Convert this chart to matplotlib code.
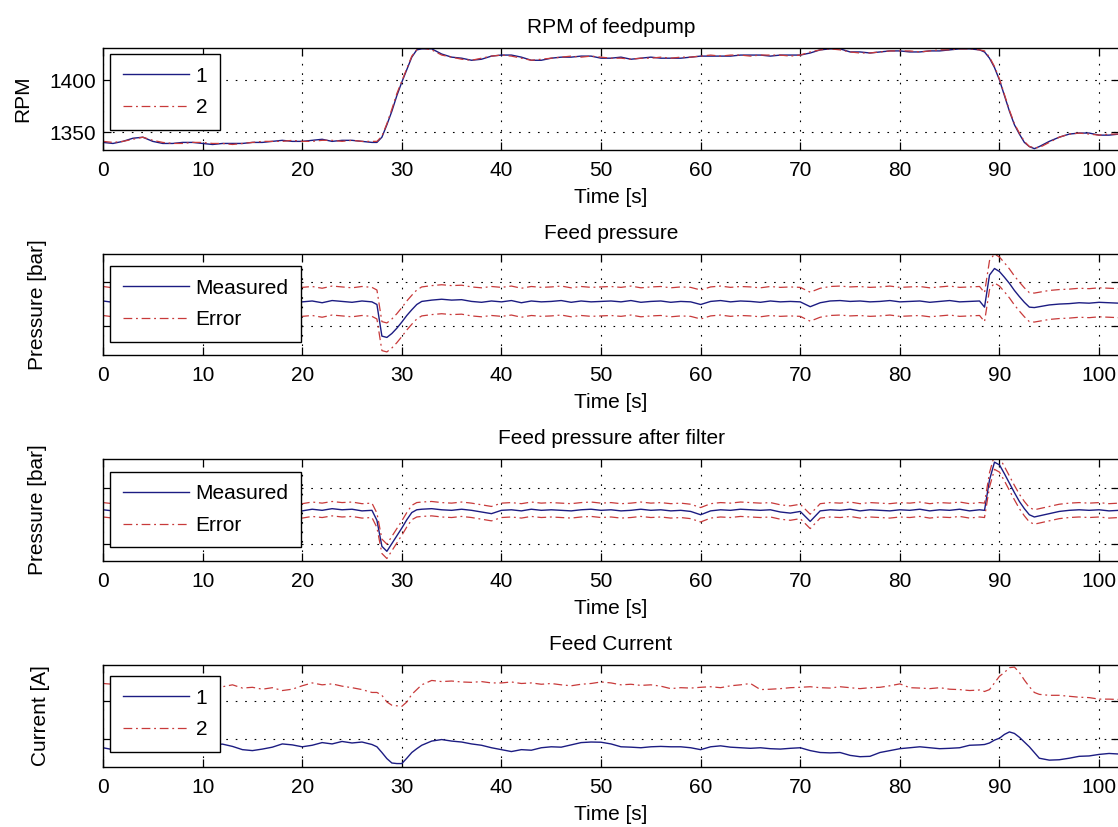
import numpy as np
import matplotlib
matplotlib.use("Agg")
import matplotlib.pyplot as plt

FS = 15
plt.rcParams["font.family"] = ["Liberation Sans", "DejaVu Sans"]
plt.rcParams["font.size"] = FS

# sampling instants [s]: 1 s steps, 0.5 s around the two load changes
t = np.r_[np.arange(0, 28), np.arange(27.5, 32, 0.5), np.arange(32, 89),
          np.arange(88.5, 94, 0.5), np.arange(94, 103)]

rpm_1 = [
    1340, 1339, 1341, 1344, 1345, 1341, 1339, 1339, 1340, 1340,
    1339, 1338, 1339, 1339, 1339, 1340, 1340, 1341, 1342, 1341,
    1341, 1342, 1343, 1341, 1342, 1342, 1341, 1340,
    1340, 1345, 1357, 1370, 1385, 1398, 1410, 1422, 1429,
    1430, 1430, 1425, 1422, 1421, 1419, 1420, 1423,
    1424, 1424, 1422, 1419, 1419, 1421, 1422, 1422, 1423, 1423,
    1421, 1421, 1422, 1420, 1421, 1422, 1421, 1421, 1421, 1422,
    1423, 1423, 1423, 1423, 1424, 1424, 1424, 1423, 1424, 1424,
    1424, 1426, 1429, 1430, 1430, 1427, 1427, 1426, 1427, 1428,
    1428, 1427, 1427, 1428, 1428, 1429, 1430, 1430, 1429,
    1427, 1421, 1412, 1400, 1385, 1370, 1357, 1348, 1340, 1336, 1334,
    1336, 1341, 1345, 1348, 1349, 1349, 1347, 1347, 1348,
]
rpm_2 = [
    1341, 1340, 1341, 1343, 1345, 1342, 1340, 1339, 1339, 1340,
    1340, 1339, 1339, 1338, 1339, 1340, 1341, 1341, 1341, 1342,
    1341, 1341, 1342, 1342, 1341, 1342, 1341, 1341,
    1341, 1346, 1358, 1372, 1387, 1399, 1411, 1423, 1429,
    1431, 1429, 1424, 1422, 1420, 1419, 1421, 1423,
    1424, 1423, 1421, 1419, 1420, 1421, 1422, 1423, 1422, 1423,
    1422, 1421, 1421, 1420, 1421, 1421, 1422, 1421, 1422, 1422,
    1423, 1424, 1423, 1424, 1424, 1423, 1424, 1424, 1424, 1423,
    1424, 1427, 1429, 1430, 1429, 1427, 1426, 1426, 1427, 1428,
    1428, 1428, 1427, 1428, 1429, 1429, 1430, 1430, 1429,
    1428, 1422, 1413, 1401, 1386, 1371, 1358, 1349, 1341, 1336, 1335,
    1335, 1340, 1345, 1348, 1349, 1348, 1347, 1348, 1348,
]

p_feed = [
    55.6, 55.3, 55.7, 55.4, 55.5, 55.8, 55.2, 55.6, 55.4, 55.7,
    55.3, 55.5, 55.6, 55.2, 55.7, 55.4, 55.5, 55.8, 55.3, 55.6,
    55.4, 55.6, 55.2, 55.7, 55.5, 55.3, 55.6, 55.4,
    54.8, 47.6, 47.3, 48.2, 49.4, 50.8, 52.3, 53.6, 54.8,
    55.5, 55.8, 56.0, 55.8, 55.9, 55.5, 55.3, 55.6,
    55.4, 55.7, 55.2, 55.6, 55.4, 55.5, 55.7, 55.3, 55.6, 55.4,
    55.5, 55.6, 55.4, 55.7, 55.3, 55.5, 55.6, 55.3, 55.5, 55.4,
    54.8, 55.5, 55.7, 55.4, 55.6, 55.5, 55.3, 55.6, 55.4, 55.5,
    55.4, 54.3, 55.2, 55.6, 55.7, 55.5, 55.6, 55.4, 55.5, 55.7,
    55.4, 55.5, 55.6, 55.3, 55.5, 55.7, 55.4, 55.5, 55.6,
    54.2, 61.5, 63.0, 62.3, 61.0, 59.6, 58.0, 56.6, 55.3, 54.2, 54.1,
    54.3, 54.7, 54.9, 55.0, 55.2, 55.1, 55.3, 55.2, 55.1,
]
p_feed_err = 3.3

p_filt = [
    56.1, 55.9, 56.2, 56.0, 55.8, 56.1, 56.0, 56.2, 55.9, 56.0,
    56.1, 55.8, 56.0, 56.2, 55.9, 56.1, 56.0, 55.9, 56.2, 56.0,
    55.9, 56.2, 56.0, 56.3, 56.1, 56.2, 55.9, 56.0,
    54.2, 49.5, 48.6, 50.0, 51.4, 52.8, 54.3, 55.6, 56.1,
    56.2, 56.3, 56.1, 56.0, 56.2, 56.0, 55.7, 55.4,
    56.0, 56.1, 55.9, 56.2, 56.0, 56.1, 56.0, 55.9, 56.1, 56.2,
    56.0, 56.1, 55.9, 56.0, 56.2, 56.0, 56.1, 55.9, 56.0, 55.8,
    55.2, 55.9, 56.1, 56.0, 56.2, 56.1, 56.0, 56.1, 55.7, 55.5,
    55.8, 54.0, 55.9, 56.1, 56.0, 56.2, 55.9, 56.1, 56.0, 55.9,
    56.1, 56.0, 56.2, 55.9, 56.1, 56.0, 56.2, 55.9, 56.1,
    56.0, 61.5, 64.7, 64.2, 62.6, 60.9, 59.2, 57.6, 56.3, 55.2, 54.8,
    55.0, 55.4, 55.8, 56.0, 56.1, 56.0, 56.1, 55.9, 56.0,
]
p_filt_err = 1.3

i_1 = [
    9.55, 9.45, 9.40, 9.50, 9.48, 9.50, 9.55, 9.60, 9.60, 9.65,
    9.70, 9.72, 9.74, 9.62, 9.45, 9.40, 9.48, 9.58, 9.75, 9.70,
    9.60, 9.68, 9.82, 9.75, 9.88, 9.80, 9.85, 9.72,
    9.60, 9.30, 8.98, 8.75, 8.72, 8.72, 9.00, 9.30, 9.50,
    9.68, 9.90, 9.98, 9.90, 9.85, 9.75, 9.68, 9.55,
    9.45, 9.35, 9.45, 9.42, 9.55, 9.60, 9.58, 9.70, 9.82, 9.85,
    9.84, 9.75, 9.60, 9.58, 9.55, 9.60, 9.62, 9.60, 9.60, 9.55,
    9.45, 9.60, 9.65, 9.58, 9.55, 9.52, 9.55, 9.50, 9.48, 9.52,
    9.55, 9.40, 9.30, 9.28, 9.30, 9.15, 9.08, 9.10, 9.30, 9.40,
    9.50, 9.55, 9.60, 9.55, 9.50, 9.52, 9.55, 9.68, 9.70,
    9.72, 9.80, 9.95, 10.05, 10.25, 10.38, 10.30, 10.10, 9.85, 9.60, 9.30,
    9.00, 8.90, 8.92, 9.00, 9.10, 9.12, 9.20, 9.25, 9.22,
]
i_2 = [
    12.92, 12.88, 12.85, 12.80, 12.85, 12.90, 12.80, 12.85, 12.90, 12.80,
    12.85, 12.75, 12.75, 12.85, 12.68, 12.72, 12.62, 12.70, 12.55, 12.62,
    12.80, 12.95, 12.85, 12.90, 12.78, 12.70, 12.60, 12.45,
    12.45, 12.30, 11.95, 11.78, 11.75, 11.72, 11.95, 12.35, 12.60,
    12.85, 13.08, 13.02, 13.05, 13.00, 12.98, 13.02, 12.95,
    12.95, 13.00, 12.92, 12.95, 12.88, 12.92, 12.85, 12.80, 12.88, 12.92,
    13.00, 12.95, 12.85, 12.88, 12.82, 12.85, 12.78, 12.65, 12.70, 12.68,
    12.72, 12.75, 12.70, 12.80, 12.85, 12.92, 12.60, 12.62, 12.65, 12.70,
    12.72, 12.75, 12.70, 12.68, 12.75, 12.70, 12.65, 12.70, 12.72, 12.80,
    12.90, 12.70, 12.68, 12.65, 12.70, 12.62, 12.60, 12.55, 12.58,
    12.50, 12.60, 12.95, 13.30, 13.50, 13.75, 13.78, 13.50, 13.10, 12.75, 12.45,
    12.35, 12.30, 12.30, 12.25, 12.20, 12.18, 12.10, 12.10, 12.08,
]

x_ticks = [0, 10, 20, 30, 40, 50, 60, 70, 80, 90, 100]

BLUE = "#1c1c82"
RED = "#c83a3a"
SOLID = "-"
DASHDOT = (0, (7, 3, 1.5, 3))

W, H = 1118, 827
fig = plt.figure(figsize=(W / 100, H / 100), dpi=100)


def panel(top_px, bot_px):
    left_px, right_px = 103, 1119
    return fig.add_axes([left_px / W, 1 - bot_px / H,
                         (right_px - left_px) / W, (bot_px - top_px) / H])


def style(ax, title, ylabel, yticks, ylim, show_ylabels, label_x):
    ax.set_xlim(0, 102)
    ax.set_ylim(*ylim)
    ax.set_xticks(x_ticks)
    ax.set_yticks(yticks)
    if not show_ylabels:
        ax.set_yticklabels([])
    ax.tick_params(direction="in", length=6, width=0.9, top=True, right=True,
                   pad=8, labelsize=FS)
    ax.tick_params(axis="y", pad=5)
    ax.grid(True, color="k", linestyle=(0, (1.5, 7)), linewidth=0.8)
    for s in ax.spines.values():
        s.set_linewidth(1.0)
    ax.set_title(title, fontsize=FS, pad=11)
    ax.set_xlabel("Time [s]", fontsize=FS, labelpad=6)
    ax.set_ylabel(ylabel, fontsize=FS)
    ax.yaxis.set_label_coords(label_x, 0.5)


def legend(ax, labels, y_anchor):
    ax.legend(labels, loc="upper left", bbox_to_anchor=(0.007, y_anchor),
              borderaxespad=0, fontsize=FS, handlelength=3.2,
              handletextpad=0.3, borderpad=0.6, labelspacing=0.6,
              fancybox=False, framealpha=1, edgecolor="k")
    ax.get_legend().get_frame().set_linewidth(1.0)


# RPM of feedpump
ax1 = panel(48, 150)
ax1.plot(t, rpm_1, color=BLUE, linestyle=SOLID, lw=1.0)
ax1.plot(t, rpm_2, color=RED, linestyle=DASHDOT, lw=0.9)
style(ax1, "RPM of feedpump", "RPM", [1350, 1400], (1332.7, 1430.8), True, -0.070)
legend(ax1, ["1", "2"], 0.941)

# Feed pressure
p = np.asarray(p_feed)
ax2 = panel(254, 355)
ax2.plot(t, p, color=BLUE, linestyle=SOLID, lw=1.0)
ax2.plot(t, p + p_feed_err, color=RED, linestyle=DASHDOT, lw=0.9)
ax2.plot(t, p - p_feed_err, color=RED, linestyle=DASHDOT, lw=0.9)
style(ax2, "Feed pressure", "Pressure [bar]", [50, 60], (43.3, 66.3), False, -0.055)
legend(ax2, ["Measured", "Error"], 0.881)

# Feed pressure after filter
pf = np.asarray(p_filt)
ax3 = panel(459, 561)
ax3.plot(t, pf, color=BLUE, linestyle=SOLID, lw=1.0)
ax3.plot(t, pf + p_filt_err, color=RED, linestyle=DASHDOT, lw=0.9)
ax3.plot(t, pf - p_filt_err, color=RED, linestyle=DASHDOT, lw=0.9)
style(ax3, "Feed pressure after filter", "Pressure [bar]", [50, 60], (46.85, 65.27), False, -0.055)
legend(ax3, ["Measured", "Error"], 0.873)

# Feed Current
ax4 = panel(665, 767)
ax4.plot(t, i_1, color=BLUE, linestyle=SOLID, lw=1.0)
ax4.plot(t, i_2, color=RED, linestyle=DASHDOT, lw=0.9)
style(ax4, "Feed Current", "Current [A]", [10, 12], (8.54, 13.89), False, -0.052)
legend(ax4, ["1", "2"], 0.892)

fig.savefig("out.png", dpi=100, facecolor="white")
